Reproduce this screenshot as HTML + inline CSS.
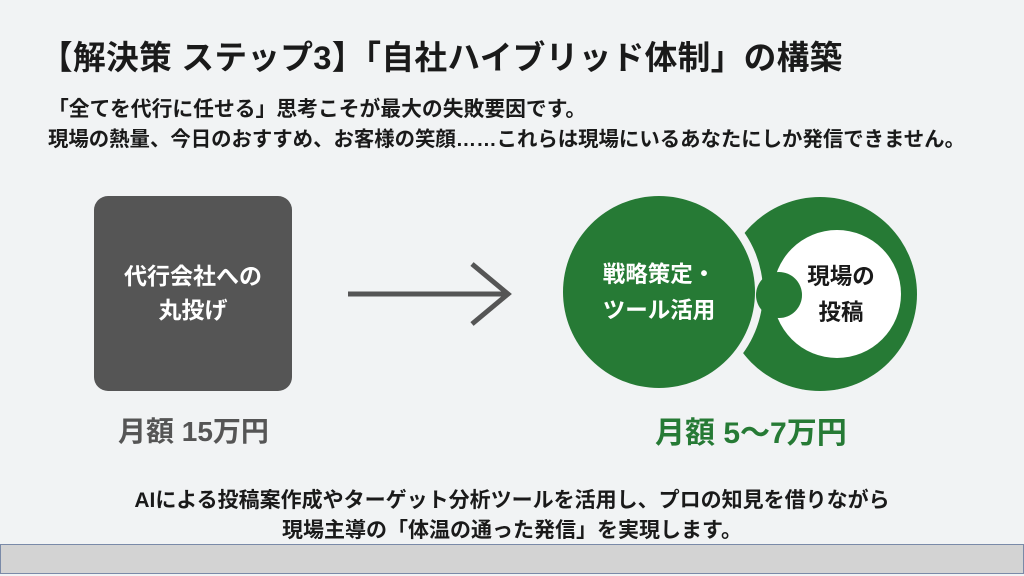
<!DOCTYPE html>
<html><head><meta charset="utf-8"><style>
body{margin:0;width:1024px;height:576px;background:#f1f3f4;position:relative;overflow:hidden;font-family:"Liberation Sans","Noto Sans CJK JP",sans-serif;font-weight:bold;color:#1a1a1a}
.a{position:absolute;white-space:nowrap}
</style></head><body>
<div class="a" style="left:40px;top:32px;font-size:32.7px;letter-spacing:0.3px;">【解決策 ステップ3】「自社ハイブリッド体制」の構築</div>
<div class="a" style="left:48px;top:92px;font-size:20.8px;">「全てを代行に任せる」思考こそが最大の失敗要因です。</div>
<div class="a" style="left:48px;top:122px;font-size:20.4px;">現場の熱量、今日のおすすめ、お客様の笑顔……これらは現場にいるあなたにしか発信できません。</div>
<div class="a" style="left:94px;top:196px;width:198px;height:195px;background:#555;border-radius:14px;"></div>
<div class="a" style="left:94px;top:259px;width:198px;text-align:center;color:#fff;font-size:23px;line-height:34px;">代行会社への<br>丸投げ</div>
<div class="a" style="left:118px;top:410px;font-size:28px;color:#555;">月額 15万円</div>
<svg class="a" style="left:0;top:0" width="1024" height="576">
<line x1="348" y1="294" x2="508" y2="294" stroke="#555" stroke-width="5"/>
<polyline points="472,264 508,294 472,324" fill="none" stroke="#555" stroke-width="5"/>
<circle cx="820" cy="294" r="97" fill="#267a35"/>
<circle cx="659" cy="292" r="104" fill="#f1f3f4"/>
<circle cx="837" cy="294" r="64" fill="#fff"/>
<circle cx="659" cy="292" r="96" fill="#267a35"/>
<circle cx="779" cy="295" r="23" fill="#267a35"/>
</svg>
<div class="a" style="left:569px;top:257px;width:180px;text-align:center;color:#fff;font-size:22.5px;line-height:36px;">戦略策定・<br>ツール活用</div>
<div class="a" style="left:791px;top:259px;width:100px;text-align:center;font-size:22.5px;line-height:36px;">現場の<br>投稿</div>
<div class="a" style="left:655px;top:408px;font-size:30px;color:#267a35;">月額 5〜7万円</div>
<div class="a" style="left:0;width:1024px;top:484px;text-align:center;font-size:21px;">AIによる投稿案作成やターゲット分析ツールを活用し、プロの知見を借りながら</div>
<div class="a" style="left:0;width:1024px;top:514px;text-align:center;font-size:21px;">現場主導の「体温の通った発信」を実現します。</div>
<div class="a" style="left:0;top:544px;width:1022px;height:28px;background:#d3d3d3;border:1px solid #7a8aa8;"></div>
</body></html>
